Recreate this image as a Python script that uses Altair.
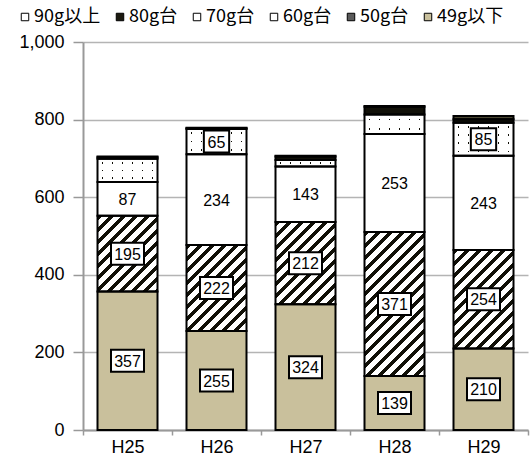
import json
import altair as alt
import pandas as pd

# Fiscal years and weight classes (bottom of the stack first)
years = ["H25", "H26", "H27", "H28", "H29"]
series = ["49g以下", "50g台", "60g台", "70g台", "80g台", "90g以上"]

w49 = [357, 255, 324, 139, 210]
w50 = [195, 222, 212, 371, 254]
w60 = [87, 234, 143, 253, 243]
w70 = [60, 65, 17, 50, 85]
w80 = [4, 2, 9, 20, 9]
w90 = [2, 1, 2, 2, 8]

# 70g segments that carry a value label
labelled_70 = ["H26", "H29"]

legend_order = ["90g以上", "80g台", "70g台", "60g台", "50g台", "49g以下"]
legend_colors = ["#ffffff", "#1c1a10", "#ffffff", "#ffffff", "#5a5a5a", "#c9c09c"]

rows = []
for idx, (name, vals) in enumerate(zip(series, [w49, w50, w60, w70, w80, w90])):
    for year, v in zip(years, vals):
        rows.append({"year": year, "series": name, "order": idx, "value": v})
df = pd.DataFrame(rows)

PLOT_W, PLOT_H = 445, 388
Y_MAX = 1000
BAR_W = 60
PX = PLOT_H / Y_MAX
BLACK = "#111008"
CLEAR = "rgba(255,255,255,0)"


def hatch_fill(value, period=12.0, ink=0.42):
    """Diagonal '/' stripes at a constant pixel pitch for a bar of given value."""
    h = max(value * PX, 1.0)
    w = float(BAR_W)
    span = w + h
    k = span / (w * w + h * h)
    stops = []
    pos = 0.0
    while pos < span:
        a = pos / span
        b = min((pos + ink * period) / span, 1.0)
        c = min((pos + period) / span, 1.0)
        stops += [
            {"offset": a, "color": BLACK},
            {"offset": b, "color": BLACK},
            {"offset": b, "color": "#ffffff"},
            {"offset": c, "color": "#ffffff"},
        ]
        pos += period
    return {"gradient": "linear", "x1": 0, "y1": 0, "x2": k * w, "y2": k * h, "stops": stops}


def gap_fill(length, centers, gap, vertical):
    """Opaque white band with transparent slits at the given pixel centres."""
    stops = [{"offset": 0, "color": "#ffffff"}]
    for c in centers:
        a = max((c - gap / 2) / length, 0.0)
        b = min((c + gap / 2) / length, 1.0)
        stops += [
            {"offset": a, "color": "#ffffff"},
            {"offset": a, "color": CLEAR},
            {"offset": b, "color": CLEAR},
            {"offset": b, "color": "#ffffff"},
        ]
    stops.append({"offset": 1, "color": "#ffffff"})
    if vertical:
        return {"gradient": "linear", "x1": 0, "y1": 0, "x2": 0, "y2": 1, "stops": stops}
    return {"gradient": "linear", "x1": 0, "y1": 0, "x2": 1, "y2": 0, "stops": stops}


base = alt.Chart(df).transform_stack(
    stack="value",
    groupby=["year"],
    as_=["y0", "y1"],
    sort=[alt.SortField("order", order="ascending")],
).transform_calculate(
    mid="(datum.y0 + datum.y1) / 2",
    digits="length(toString(datum.value))",
)

x_axis = alt.Axis(
    labelAngle=0,
    tickBand="extent",
    tickSize=5,
    tickColor="#999999",
    tickWidth=1.5,
    domainColor="#999999",
    domainWidth=2,
    labelPadding=3,
    labelFont="Liberation Sans",
    labelFontSize=18,
    labelColor="#000000",
    grid=False,
)
y_axis = alt.Axis(
    values=[0, 200, 400, 600, 800, 1000],
    format=",d",
    tickSize=10,
    tickColor="#999999",
    tickWidth=1.5,
    domainColor="#999999",
    domainWidth=2,
    gridColor="#b4b4b4",
    gridWidth=1.5,
    labelPadding=9,
    labelFont="Liberation Sans",
    labelFontSize=18,
    labelColor="#000000",
)
y_scale = alt.Scale(domain=[0, Y_MAX], nice=False)

x_enc = alt.X("year:N", sort=years, title=None,
              scale=alt.Scale(paddingInner=0, paddingOuter=0), axis=x_axis)
y_enc = alt.Y("y1:Q", title=None, scale=y_scale, axis=y_axis)
mid_enc = alt.Y("mid:Q", title=None, scale=y_scale, axis=y_axis)


def seg(chart):
    return chart.encode(x=x_enc, y=y_enc, y2="y0:Q")


def in_list(field, values):
    return f"indexof({json.dumps(values, ensure_ascii=False)}, datum.{field}) >= 0"


layers = []

# Flat fills, also the source of the legend
layers.append(
    seg(base.mark_bar(size=BAR_W, strokeWidth=0)).encode(
        color=alt.Color(
            "series:N",
            scale=alt.Scale(domain=legend_order, range=legend_colors),
            legend=alt.Legend(
                title=None,
                orient="none",
                legendX=-67,
                legendY=-34,
                direction="horizontal",
                columns=6,
                padding=0,
                symbolType="square",
                symbolSize=56,
                symbolStrokeColor="#000000",
                symbolStrokeWidth=1,
                labelFont="Noto Sans CJK JP",
                labelFontSize=18,
                labelColor="#000000",
                labelOffset=0,
                columnPadding=10,
            ),
        )
    )
)

# 50g: diagonal hatching per bar
for year, v in zip(years, w50):
    layers.append(
        seg(
            base.transform_filter(
                f"datum.series == '50g台' && datum.year == '{year}'"
            ).mark_bar(size=BAR_W, strokeWidth=0, fill=hatch_fill(v))
        )
    )

# 70g: dotted texture (dark base showing through column and row slits)
layers.append(
    seg(base.transform_filter("datum.series == '70g台'").mark_bar(size=BAR_W, strokeWidth=0, fill=BLACK))
)
col_centers = [5 + 10 * i for i in range(6)]
layers.append(
    seg(
        base.transform_filter("datum.series == '70g台'").mark_bar(
            size=BAR_W, strokeWidth=0, fill=gap_fill(BAR_W, col_centers, 1.7, vertical=False)
        )
    )
)
for year, v in zip(years, w70):
    h = v * PX
    n = max(1, int(round(h / 8.5)))
    centers = [(i + 0.5) * h / n for i in range(n)]
    layers.append(
        seg(
            base.transform_filter(
                f"datum.series == '70g台' && datum.year == '{year}'"
            ).mark_bar(size=BAR_W, strokeWidth=0, fill=gap_fill(h, centers, 1.7, vertical=True))
        )
    )

# 80g: solid black, 90g and over: dark olive
layers.append(
    seg(base.transform_filter("datum.series == '80g台'").mark_bar(size=BAR_W, strokeWidth=0, fill=BLACK))
)
layers.append(
    seg(base.transform_filter("datum.series == '90g以上'").mark_bar(size=BAR_W, strokeWidth=0, fill="#4a4733"))
)

# Segment outlines
layers.append(
    seg(base.mark_bar(size=BAR_W, fill="#ffffff", fillOpacity=0, stroke="#000000", strokeWidth=2))
)

# Value labels
labelled_70_expr = f"(datum.series == '70g台' && {in_list('year', labelled_70)})"
label_filter = f"{in_list('series', ['49g以下', '50g台', '60g台'])} || {labelled_70_expr}"
boxed_filter = f"{in_list('series', ['49g以下', '50g台'])} || {labelled_70_expr}"

for digits, path in [(3, "M-1.5,-1H1.5V1H-1.5Z"), (2, "M-1.15,-1H1.15V1H-1.15Z")]:
    layers.append(
        base.transform_filter(boxed_filter)
        .transform_filter(f"datum.digits == {digits}")
        .mark_point(shape=path, size=484, filled=True, fill="#ffffff", stroke="#000000", strokeWidth=2, opacity=1)
        .encode(x=x_enc, y=mid_enc)
    )

layers.append(
    base.transform_filter(label_filter)
    .mark_text(font="Liberation Sans", fontSize=16, color="#000000", align="center", baseline="middle", dy=1)
    .encode(x=x_enc, y=mid_enc, text=alt.Text("value:Q"))
)

chart = (
    alt.layer(*layers)
    .properties(
        width=PLOT_W,
        height=PLOT_H,
        padding={"left": 83, "top": 42, "right": 4, "bottom": 27},
        autosize=alt.AutoSizeParams(type="none"),
        background="#ffffff",
    )
    .configure_view(stroke=None)
)

chart.save("out.html", embed_options={"renderer": "svg", "actions": False})
